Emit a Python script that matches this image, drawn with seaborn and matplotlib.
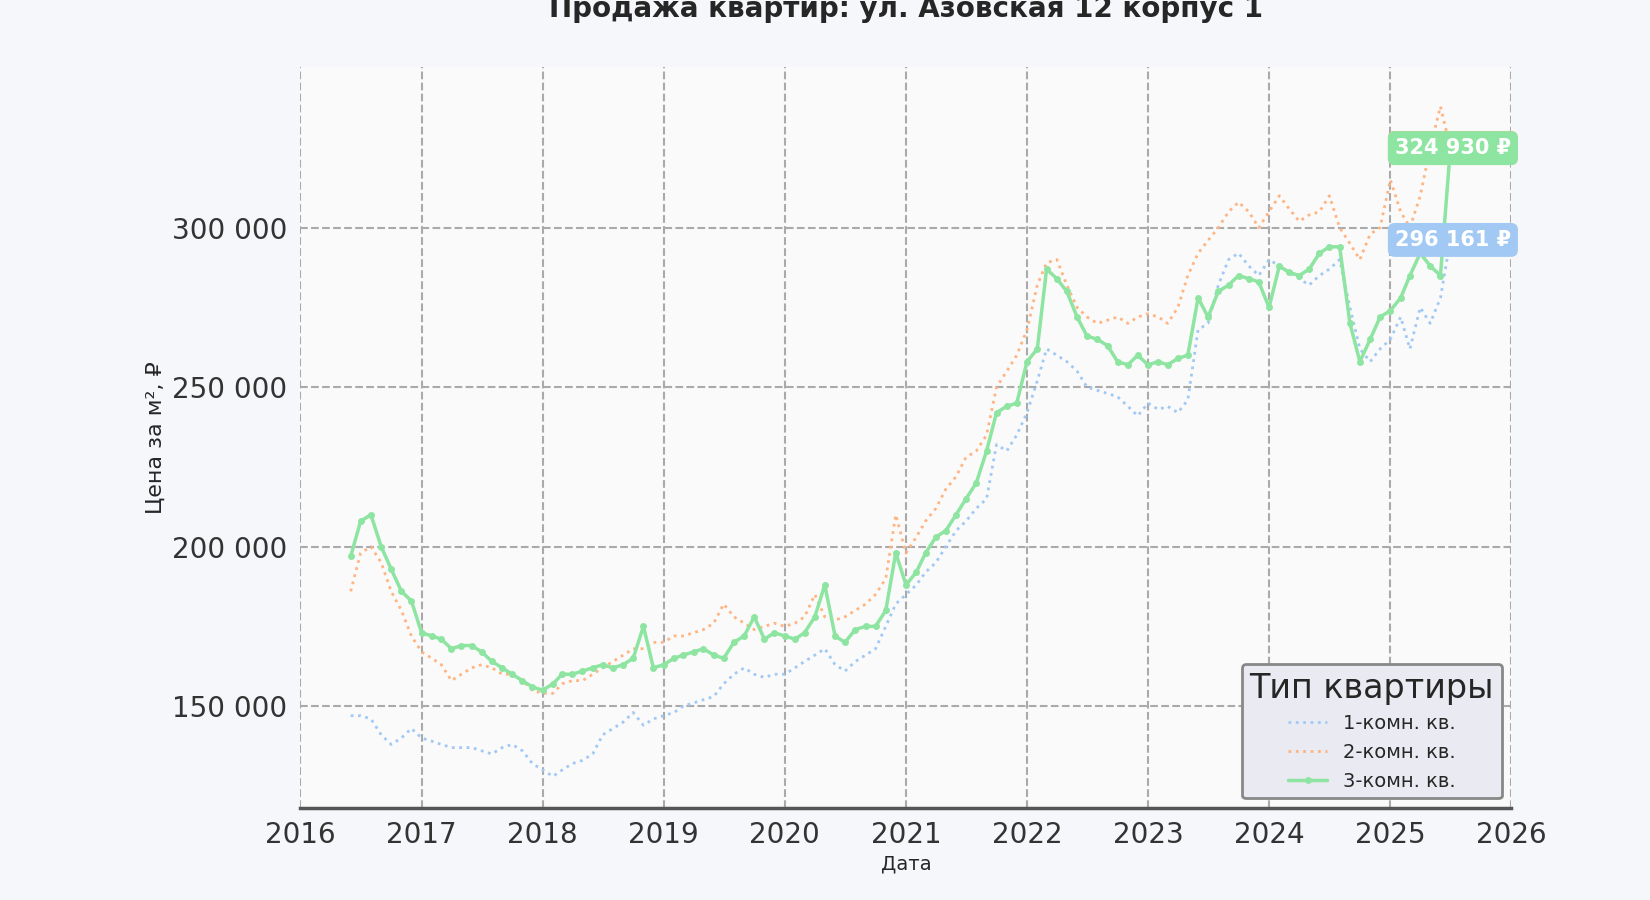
import pandas as pd
import seaborn as sns
import matplotlib.pyplot as plt
import matplotlib.dates as mdates
from matplotlib.ticker import FuncFormatter

#   monthly prices per m2, thousands of rubles
one_room = [147, 147, 146, 141, 138, 140, 143,
            140, 139, 138, 137, 137, 137, 136, 135, 137, 138, 136, 132,
            130, 128, 130, 132, 133, 135, 141, 143, 145, 148, 144, 146,
            147, 148, 150, 151, 152, 153, 157, 160, 162, 160, 159, 160,
            160, 162, 164, 166, 168, 163, 161, 164, 166, 168, 175, 182,
            185, 188, 192, 195, 200, 205, 208, 212, 215, 232, 230, 235,
            242, 252, 262, 260, 258, 255, 250, 249, 248, 247, 244, 241,
            245, 243, 244, 242, 246, 268, 270, 282, 290, 292, 288, 285,
            290, 288, 286, 284, 282, 285, 287, 290, 275, 262, 258, 262,
            265, 272, 262, 275, 270, 278, 296.161]
two_room = [186, 198, 200, 195, 186, 180, 172,
            167, 165, 163, 158, 160, 162, 163, 162, 160, 160, 158, 155,
            154, 154, 157, 158, 158, 160, 162, 164, 166, 168, 168, 170,
            170, 172, 172, 173, 174, 176, 182, 178, 176, 174, 175, 176,
            175, 176, 178, 185, 178, 177, 178, 180, 182, 185, 190, 210,
            198, 203, 208, 212, 218, 222, 228, 230, 235, 250, 255, 260,
            268, 282, 289, 290, 282, 275, 272, 270, 271, 272, 270, 272,
            273, 272, 270, 275, 285, 292, 296, 300, 305, 308, 305, 300,
            305, 310, 306, 302, 304, 305, 310, 300, 295, 290, 298, 300,
            315, 305, 300, 310, 325, 338, 325]
three_room = [197, 208, 210, 200, 193, 186, 183,
              173, 172, 171, 168, 169, 169, 167, 164, 162, 160, 158, 156,
              155, 157, 160, 160, 161, 162, 163, 162, 163, 165, 175, 162,
              163, 165, 166, 167, 168, 166, 165, 170, 172, 178, 171, 173,
              172, 171, 173, 178, 188, 172, 170, 174, 175, 175, 180, 198,
              188, 192, 198, 203, 205, 210, 215, 220, 230, 242, 244, 245,
              258, 262, 287, 284, 280, 272, 266, 265, 263, 258, 257, 260,
              257, 258, 257, 259, 260, 278, 272, 280, 282, 285, 284, 283,
              275, 288, 286, 285, 287, 292, 294, 294, 270, 258, 265, 272,
              274, 278, 285, 292, 288, 285, 324.930]
labels = ['1-комн. кв.', '2-комн. кв.', '3-комн. кв.']

dates = pd.date_range('2016-06-01', periods=len(one_room), freq='MS')
df = pd.DataFrame({'date': dates, labels[0]: one_room, labels[1]: two_room, labels[2]: three_room})
long = df.melt(id_vars='date', var_name='type', value_name='price')
long['price'] = long['price'] * 1000

sns.set_theme(style='whitegrid')
plt.rcParams['font.family'] = ['DejaVu Sans']
pal = sns.color_palette('pastel')
colors = {labels[0]: pal[0], labels[1]: pal[1], labels[2]: pal[2]}

fig = plt.figure(figsize=(16.5, 9), dpi=100, facecolor='#f5f7fa')
ax = fig.add_axes([0.182, 0.102, 0.734, 0.824])
ax.set_facecolor('#fafafa')

for lab in labels[:2]:
    sub = long[long['type'] == lab]
    sns.lineplot(data=sub, x='date', y='price', ax=ax, color=colors[lab],
                 linestyle=':', linewidth=2, label=lab)
sub = long[long['type'] == labels[2]]
sns.lineplot(data=sub, x='date', y='price', ax=ax, color=colors[labels[2]],
             linewidth=2.5, marker='o', markersize=5, markeredgewidth=0, label=labels[2])

fmt = lambda v: f'{v:,.0f}'.replace(',', ' ')
ax.yaxis.set_major_formatter(FuncFormatter(lambda v, p: fmt(v)))
ax.set_ylim(118000, 350500)
ax.set_yticks([150000, 200000, 250000, 300000])
ax.set_xlim(pd.Timestamp('2016-01-01'), pd.Timestamp('2026-01-01'))
ax.xaxis.set_major_locator(mdates.YearLocator())
ax.xaxis.set_major_formatter(mdates.DateFormatter('%Y'))
ax.tick_params(labelsize=20, colors='#333333')
ax.grid(True, linestyle='--', color='#aaaaaa', linewidth=1.5)

for s in ['top', 'right', 'left']:
    ax.spines[s].set_visible(False)
ax.spines['bottom'].set_color('#555555')
ax.spines['bottom'].set_linewidth(2.5)

ax.set_xlabel('Дата', fontsize=14, labelpad=4)
ax.set_ylabel('Цена за м², ₽', fontsize=16)
ax.set_title('Продажа квартир: ул. Азовская 12 корпус 1', fontsize=20, fontweight='bold', pad=36)

#   last value labels
last = dates[-1]
for lab, vals in [(labels[1], two_room), (labels[0], one_room), (labels[2], three_room)]:
    v = vals[-1] * 1000
    ax.annotate(f'{fmt(v)} ₽', xy=(last, v), xytext=(-40, 0), textcoords='offset points',
                fontsize=15, fontweight='bold', color='white', va='center', ha='left',
                bbox=dict(boxstyle='round,pad=0.3', fc=colors[lab], ec=colors[lab]), annotation_clip=False)

leg = ax.legend(title='Тип квартиры', loc='lower right', fontsize=14, title_fontsize=24,
                frameon=True, facecolor='#eaeaf2', edgecolor='#888888', framealpha=1)
leg.get_frame().set_linewidth(2)

plt.savefig('out.png', dpi=100, facecolor=fig.get_facecolor())
